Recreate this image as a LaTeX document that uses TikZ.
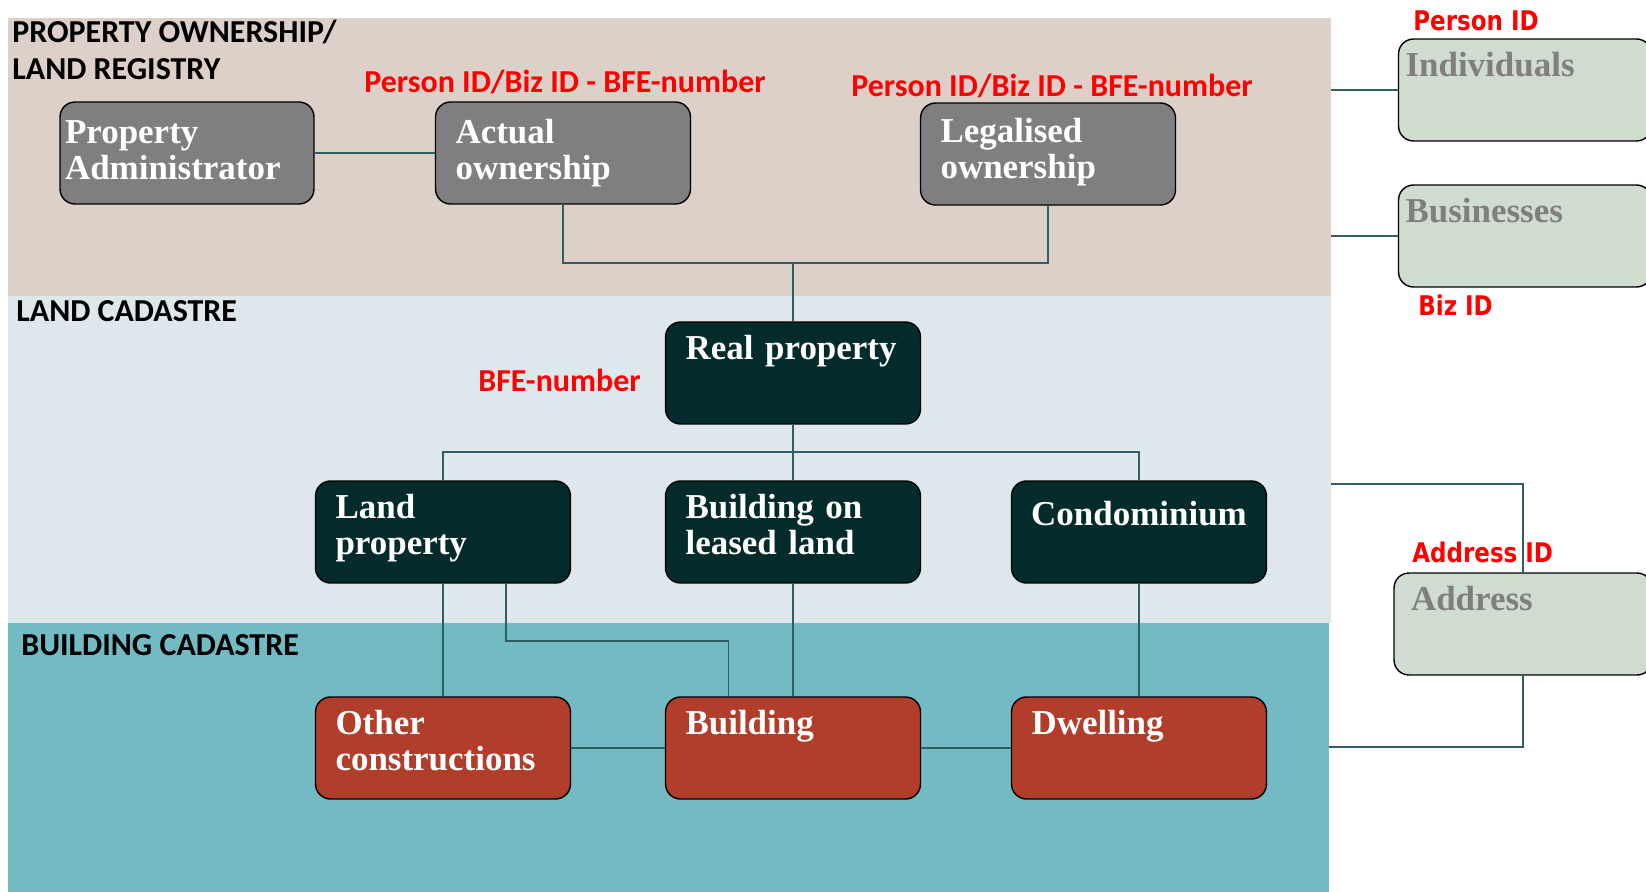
\documentclass[tikz,border=0pt]{standalone}
\usepackage{fontspec}
\setmainfont{Liberation Serif}
\newfontfamily\headfont{Carlito}
\newfontfamily\idfont[FakeStretch=0.85]{DejaVu Sans}
\usepackage{tikz}

\definecolor{bandbeige}{HTML}{DDD0C8}
\definecolor{bandsky}{HTML}{DEE8EC}
\definecolor{bandteal}{HTML}{74BAC2}
\definecolor{boxgray}{HTML}{7F7F7F}
\definecolor{boxdark}{HTML}{032B2B}
\definecolor{boxred}{HTML}{B03E2B}
\definecolor{boxsage}{HTML}{CFDCCF}
\definecolor{linkteal}{HTML}{2F5F63}

\begin{document}
\begin{tikzpicture}[x=0.02cm, y=-0.02cm,
		cadbox/.style={draw=black, line width=0.8pt, rounded corners=0.3cm, minimum height=2.04cm, text width=4.3cm, inner xsep=0.4cm, inner ysep=0pt, align=left, text=white, font=\fontsize{19.9pt}{20.5pt}\selectfont\bfseries, text height=0.48cm, text depth=1.04cm},
		graybox/.style={cadbox, fill=boxgray},
		darkbox/.style={cadbox, fill=boxdark},
		redbox/.style={cadbox, fill=boxred},
		sagebox/.style={cadbox, fill=boxsage, text=boxgray, text width=4.78cm, inner xsep=0.14cm},
		tierhead/.style={font=\headfont\fontsize{18.2pt}{21.6pt}\selectfont\bfseries, align=left, inner sep=0pt, anchor=base west},
		idtag/.style={tierhead, text=red},
		keytag/.style={font=\idfont\fontsize{15.4pt}{18pt}\selectfont\bfseries, text=red, inner sep=0pt, anchor=base west},
		linkline/.style={draw=linkteal, line width=1pt}]
	\useasboundingbox (0, 0) rectangle (1646, 892);

	\fill[bandbeige] (8, 18) rectangle (1331, 296);
	\fill[bandsky] (8, 296) rectangle (1331, 623);
	\fill[bandteal] (8, 623) rectangle (1329, 892);

	\node[tierhead] (hreg) at (12, 80) {PROPERTY OWNERSHIP/\\LAND REGISTRY};
	\node[tierhead] (hland) at (16, 321) {LAND CADASTRE};
	\node[tierhead] (hbuild) at (21, 655) {BUILDING CADASTRE};

	\node[graybox, inner xsep=0.1cm, text width=4.88cm, text depth=0.86cm] (padmin) at (187, 153) {Property\\Administrator};
	\node[graybox, text depth=0.86cm] (actual) at (563, 153) {Actual\\ownership};
	\node[graybox, text depth=0.96cm] (legal) at (1048, 154) {Legalised\\ownership};

	\node[darkbox] (realprop) at (793, 373) {Real property};
	\node[darkbox] (landprop) at (443, 532) {Land\\property};
	\node[darkbox] (leased) at (793, 532) {Building on\\leased land};
	\node[darkbox, align=center, text width=4.5cm, inner xsep=0.3cm, text depth=0.76cm] (condo) at (1139, 532) {Condominium};

	\node[redbox] (other) at (443, 748) {Other\\constructions};
	\node[redbox] (building) at (793, 748) {Building};
	\node[redbox] (dwelling) at (1139, 748) {Dwelling};

	\node[sagebox] (indiv) at (1525, 90) {Individuals};
	\node[sagebox] (biz) at (1525, 236) {Businesses};
	\node[sagebox, text width=4.48cm, inner xsep=0.34cm] (addr) at (1523, 624) {Address};

	\coordinate (ownjoin) at (793, 263);
	\coordinate (cadjoin) at (793, 452);
	\coordinate (regedge1) at (1331, 90);
	\coordinate (regedge2) at (1331, 236);
	\coordinate (cadedge) at (1331, 484);
	\coordinate (bldedge) at (1329, 747);

	\draw[linkline] (padmin.east) -- (actual.west);
	\draw[linkline] (actual.south) |- (ownjoin) -- (realprop.north);
	\draw[linkline] (legal.south) |- (ownjoin);

	\draw[linkline] (realprop.south) -- (cadjoin) -- (leased.north);
	\draw[linkline] (landprop.north) |- (cadjoin) -| (condo.north);

	\draw[linkline] (landprop.south) -- (other.north);
	\draw[linkline] ([xshift=1.26cm]landprop.south) -- ++(0, 57) -| ([xshift=-1.29cm]building.north);
	\draw[linkline] (leased.south) -- (building.north);
	\draw[linkline] (condo.south) -- (dwelling.north);
	\draw[linkline] (other.east) -- (building.west);
	\draw[linkline] (building.east) -- (dwelling.west);

	\draw[linkline] (regedge1) -- (indiv.west);
	\draw[linkline] (regedge2) -- (biz.west);
	\draw[linkline] (cadedge) -| (addr.north);
	\draw[linkline] (addr.south) |- (bldedge);

	\node[idtag] (ownid) at (364, 92) {Person ID/Biz ID - BFE-number};
	\node[idtag] (legalid) at (851, 97) {Person ID/Biz ID - BFE-number};
	\node[idtag] (bfe) at (478, 391) {BFE-number};
	\node[keytag] (persid) at (1413, 31) {Person ID};
	\node[keytag] (bizid) at (1418, 315) {Biz ID};
	\node[keytag] (addrid) at (1412, 562) {Address ID};
\end{tikzpicture}
\end{document}
